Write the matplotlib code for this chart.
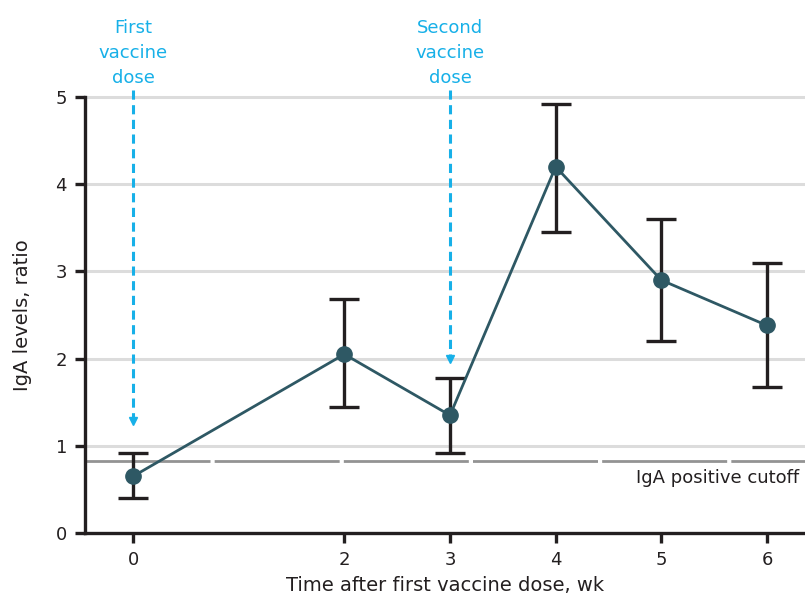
"""
IgA levels after vaccine doses
"""

import matplotlib.pyplot as plt

# データ
weeks = [0, 2, 3, 4, 5, 6]
iga_ratio = [0.65, 2.05, 1.35, 4.2, 2.9, 2.38]
err_low = [0.40, 1.45, 0.92, 3.45, 2.20, 1.68]
err_high = [0.92, 2.68, 1.78, 4.92, 3.60, 3.10]
cutoff = 0.83
dose_weeks = [0, 3]
dose_labels = ['First\nvaccine\ndose', 'Second\nvaccine\ndose']
arrow_tips = [1.24, 1.96]
y_ticks = [0, 1, 2, 3, 4, 5]

plt.rcParams['font.family'] = ['DejaVu Sans']

BLUE = '#17b0e8'
LINE = '#2e5864'
DARK = '#231f20'

fig = plt.figure(figsize=(8.05, 6.03), dpi=100)
ax = fig.add_axes([85 / 805, 1 - 533 / 603, 720 / 805, 436 / 603])
ax.set_xlim(-0.455, 6.36)
ax.set_ylim(0, 5)

# グリッド
for y in y_ticks[1:]:
    ax.axhline(y, color='#dcdcdc', lw=2.2, zorder=0, clip_on=False)

# カットオフ線
ax.axhline(cutoff, color='#939393', lw=2, dashes=(45, 1.5), zorder=1)
ax.text(6.3, cutoff - 0.1, 'IgA positive cutoff', ha='right', va='top',
        fontsize=13, color=DARK)

# データ線とエラーバー
lo = [v - l for v, l in zip(iga_ratio, err_low)]
hi = [h - v for v, h in zip(iga_ratio, err_high)]
ax.errorbar(weeks, iga_ratio, yerr=[lo, hi], fmt='none', ecolor=DARK,
            elinewidth=2.4, capsize=11, capthick=2.4, zorder=3)
ax.plot(weeks, iga_ratio, color=LINE, lw=2, marker='o', ms=11,
        markerfacecolor=LINE, markeredgecolor=LINE, zorder=4)

# ワクチン接種の矢印
for w, lab, tip in zip(dose_weeks, dose_labels, arrow_tips):
    ax.plot([w, w], [5.08, tip + 0.06], color=BLUE, lw=2.2,
            dashes=(3, 1.8), clip_on=False, zorder=2)
    ax.plot([w], [tip + 0.04], marker='v', ms=6, color=BLUE,
            clip_on=False, zorder=2)
    ax.text(w, 5.12, lab, ha='center', va='bottom', fontsize=13,
            color=BLUE, linespacing=1.5)

# 軸
for s in ['top', 'right']:
    ax.spines[s].set_visible(False)
ax.spines['left'].set_linewidth(2.4)
ax.spines['bottom'].set_linewidth(2.4)
ax.spines['left'].set_color(DARK)
ax.spines['bottom'].set_color(DARK)
ax.set_xticks(weeks)
ax.set_yticks(y_ticks)
ax.tick_params(axis='both', length=7, width=2.4, color=DARK,
               labelsize=13, labelcolor=DARK, pad=6)
ax.set_xlabel('Time after first vaccine dose, wk', fontsize=14,
              color=DARK, labelpad=5)
ax.set_ylabel('IgA levels, ratio', fontsize=14, color=DARK, labelpad=17)

fig.savefig('out.png', dpi=100, facecolor='white')
